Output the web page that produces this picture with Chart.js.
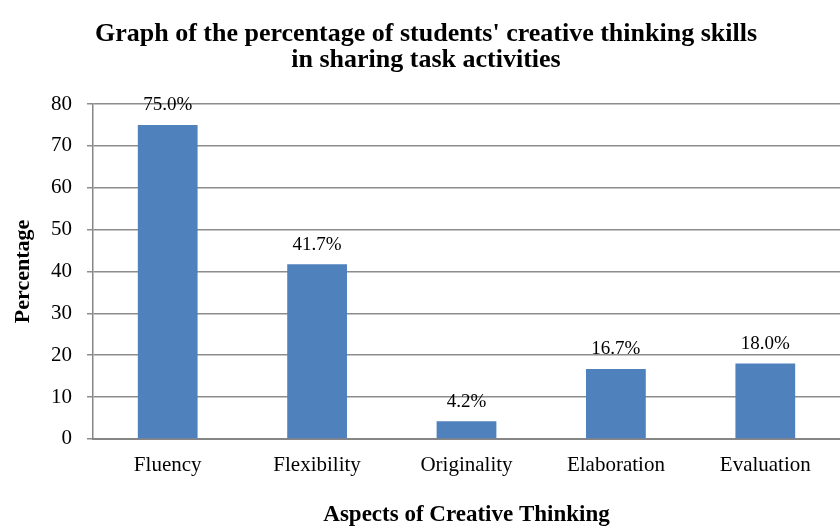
<!DOCTYPE html>
<html>
<head>
<meta charset="utf-8">
<script src="https://cdn.jsdelivr.net/npm/chart.js@4.4.0/dist/chart.umd.min.js"></script>
<style>
html,body{margin:0;padding:0;background:#fff;}
#wrap{width:840px;height:527px;position:relative;}
</style>
</head>
<body>
<div id="wrap"><canvas id="c"></canvas></div>
<script>
const categories = ["Fluency", "Flexibility", "Originality", "Elaboration", "Evaluation"];
const percentages = [75.0, 41.7, 4.2, 16.7, 18.0];
const yTicks = [0, 10, 20, 30, 40, 50, 60, 70, 80];

const serif = "'Liberation Serif', 'Times New Roman', serif";

const labelPlugin = {
  id: 'barLabels',
  afterDatasetsDraw(chart) {
    const ctx = chart.ctx;
    const meta = chart.getDatasetMeta(0);
    ctx.save();
    ctx.font = "19px " + serif;
    ctx.fillStyle = "#000";
    ctx.textAlign = "center";
    ctx.textBaseline = "bottom";
    meta.data.forEach((bar, i) => {
      ctx.fillText(percentages[i].toFixed(1) + "%", bar.x, bar.y - 10);
    });
    ctx.restore();
  }
};

new Chart(document.getElementById('c'), {
  type: 'bar',
  data: {
    labels: categories,
    datasets: [{
      data: percentages,
      backgroundColor: '#4F81BD',
      borderWidth: 0,
      categoryPercentage: 1.0,
      barPercentage: 0.40
    }]
  },
  options: {
    responsive: true,
    maintainAspectRatio: false,
    animation: false,
    layout: { padding: { left: 12, right: 0, top: 0, bottom: 0 } },
    plugins: {
      legend: { display: false },
      tooltip: { enabled: false },
      title: {
        display: true,
        text: ["Graph of the percentage of students' creative thinking skills", "in sharing task activities"],
        font: { family: serif, size: 26, weight: 'bold', lineHeight: 1.0 },
        color: '#000',
        padding: { top: 21, bottom: 31 }
      }
    },
    scales: {
      x: {
        grid: { display: false },
        border: { display: true, color: '#868686', width: 2 },
        ticks: { font: { family: serif, size: 21, lineHeight: 1.1 }, color: '#000', padding: 7 },
        title: {
          display: true,
          text: 'Aspects of Creative Thinking',
          font: { family: serif, size: 23, weight: 'bold', lineHeight: 1 },
          color: '#000',
          padding: { top: 20, bottom: 0 }
        }
      },
      y: {
        min: 0, max: 80,
        afterBuildTicks(axis) { axis.ticks = yTicks.map(v => ({ value: v })); },
        grid: { color: '#8c8c8c', lineWidth: 1.5, tickLength: 6, drawTicks: true },
        border: { display: true, color: '#868686', width: 1.5 },
        ticks: { font: { family: serif, size: 21 }, color: '#000', padding: 15 },
        title: {
          display: true,
          text: 'Percentage',
          font: { family: serif, size: 22, weight: 'bold', lineHeight: 1 },
          color: '#000',
          padding: { top: 0, bottom: 2 }
        }
      }
    }
  },
  plugins: [labelPlugin]
});
</script>
</body>
</html>
